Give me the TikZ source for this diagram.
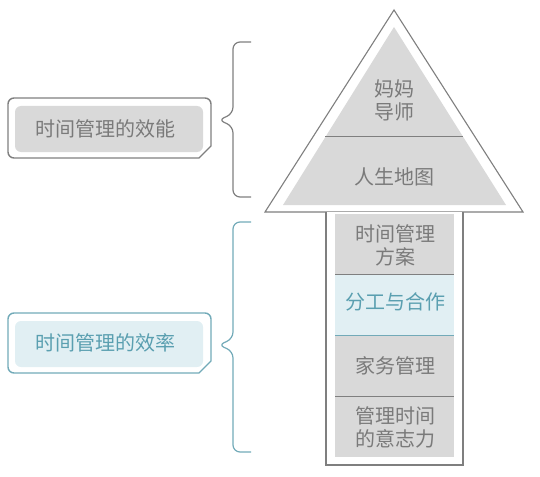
\documentclass[tikz,border=0pt]{standalone}
\usepackage{fontspec}
\newfontfamily\cjk{Noto Sans CJK SC}
\definecolor{gline}{HTML}{7F7F7F}
\definecolor{gfill}{HTML}{D9D9D9}
\definecolor{gtext}{HTML}{7A7A7A}
\definecolor{bline}{HTML}{72AAB8}
\definecolor{bfill}{HTML}{E1EFF3}
\definecolor{btext}{HTML}{5A9FB0}
\tikzset{
  lbl/.style={font=\cjk\fontsize{20}{23}\selectfont, text=gtext, align=center, inner sep=0pt},
  blbl/.style={lbl, text=btext},
  outl/.style={draw=gline, line width=1.1pt},
  brace/.style={line width=1.2pt, rounded corners=7pt},
}
\begin{document}
\begin{tikzpicture}[x=1pt,y=-1pt]
\useasboundingbox (0,0) rectangle (540,476);
% triangle
\draw[outl, fill=white, line join=miter] (265,212) -- (394,10) -- (523,212) -- cycle;
\fill[gfill] (283,205) -- (394,27) -- (506,205) -- cycle;
\draw[gline, line width=1pt] (325,136) -- (463,136);
% stem
\draw[outl, fill=white] (326,212) -- (326,465) -- (463,465) -- (463,212);
\fill[gfill] (335,214) rectangle (454,274);
\fill[bfill] (335,274) rectangle (454,335);
\fill[gfill] (335,335) rectangle (454,457);
\draw[gline, line width=1pt] (335,274) -- (454,274);
\draw[bline, line width=1pt] (335,335) -- (454,335);
\draw[gline, line width=1pt] (335,396) -- (454,396);
% texts
\node[lbl] (t1) at (394,100) {妈妈\\导师};
\node[lbl] (t2) at (394,177) {人生地图};
\node[lbl] (s1) at (395,245) {时间管理\\方案};
\node[blbl] (s2) at (395,302) {分工与合作};
\node[lbl] (s3) at (395,366) {家务管理};
\node[lbl] (s4) at (395,427) {管理时间\\的意志力};
% left boxes
\draw[outl, line width=1.4pt, rounded corners=6pt] (8,98) -- (211,98) -- (211,146) [sharp corners]-- (211,146) -- (199,158) [rounded corners=6pt]-- (8,158) -- cycle;
\fill[gfill, rounded corners=6pt] (15,106) rectangle (203,152);
\node[lbl] (b1) at (105,129) {时间管理的效能};
\draw[draw=bline, line width=1.4pt, rounded corners=6pt] (8,313) -- (211,313) -- (211,361) [sharp corners]-- (211,361) -- (199,373) [rounded corners=6pt]-- (8,373) -- cycle;
\fill[bfill, rounded corners=6pt] (15,321) rectangle (203,367);
\node[blbl] (b2) at (105,343) {时间管理的效率};
% braces
\coordinate (u1) at (251,42);
\coordinate (u2) at (251,197);
\coordinate (ut) at (218,120);
\draw[brace, gline] (u1) -- (233,42) -- (233,114) -- (ut) -- (233,126) -- (233,197) -- (u2);
\coordinate (l1) at (251,222);
\coordinate (l2) at (251,452);
\coordinate (lt) at (218,345);
\draw[brace, bline] (l1) -- (233,222) -- (233,339) -- (lt) -- (233,351) -- (233,452) -- (l2);
\end{tikzpicture}
\end{document}
